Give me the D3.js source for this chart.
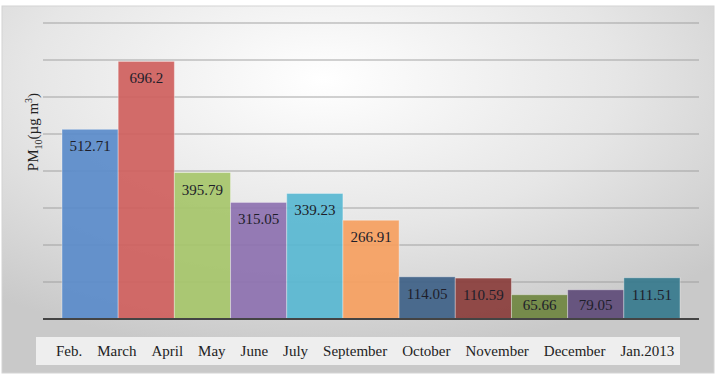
<!doctype html>
<html>
<head>
    <meta charset="utf-8">
    <title>PM10 monthly</title>
    <script src="https://cdn.jsdelivr.net/npm/d3@7"></script>
    <style type="text/css">
        html, body { margin: 0; background: #fff; }
        svg text { font-family: "Liberation Serif", "Times New Roman", serif; }
    </style>
</head>
<body>
<svg id="chart" width="723" height="380"></svg>
<script>
    var months = ["Feb.", "March", "April", "May", "June", "July", "September",
                  "October", "November", "December", "Jan.2013"];
    var pm10 = [512.71, 696.2, 395.79, 315.05, 339.23, 266.91, 114.05, 110.59, 65.66, 79.05, 111.51];
    var barColors = ["#5a8bca", "#cf5f5d", "#a6c56a", "#8d71b0", "#58b7d1", "#f6a060",
                     "#3e6187", "#8a3d3b", "#6f8640", "#5e4b78", "#36798d"];
    var yTicks = [0, 100, 200, 300, 400, 500, 600, 700, 800];

    var svg = d3.select("#chart");

    // background panel with soft radial shading
    var defs = svg.append("defs");
    var grad = defs.append("radialGradient")
        .attr("id", "bg")
        .attr("cx", "45%").attr("cy", "20%").attr("r", "75%");
    grad.append("stop").attr("offset", "0%").attr("stop-color", "#ffffff");
    grad.append("stop").attr("offset", "55%").attr("stop-color", "#e6e6e6");
    grad.append("stop").attr("offset", "100%").attr("stop-color", "#c9c9c9");

    svg.append("rect")
        .attr("x", 2).attr("y", 6)
        .attr("width", 712).attr("height", 367)
        .attr("fill", "url(#bg)")
        .attr("stroke", "#d4d4d4");

    var x = d3.scaleBand()
        .domain(months)
        .range([62, 680])
        .paddingInner(0)
        .paddingOuter(0);

    var y = d3.scaleLinear()
        .domain([0, 800])
        .range([319, 23]);

    // gridlines
    svg.append("g")
        .selectAll("line")
        .data(yTicks.slice(1))
        .enter()
        .append("line")
        .attr("x1", 43).attr("x2", 699)
        .attr("y1", function(d) { return y(d); })
        .attr("y2", function(d) { return y(d); })
        .attr("stroke", "#9a9a9a")
        .attr("stroke-opacity", 0.6)
        .attr("stroke-width", 1.5);

    // bars
    var bars = svg.append("g")
        .selectAll("rect")
        .data(pm10)
        .enter()
        .append("rect")
        .attr("x", function(d, i) { return x(months[i]); })
        .attr("y", function(d) { return y(d); })
        .attr("width", x.bandwidth())
        .attr("height", function(d) { return y(0) - y(d); })
        .attr("fill", function(d, i) { return barColors[i]; })
        .attr("fill-opacity", 0.92)
        .attr("stroke", "#ffffff")
        .attr("stroke-opacity", 0.35)
        .attr("stroke-width", 1);

    // value labels
    svg.append("g")
        .selectAll("text")
        .data(pm10)
        .enter()
        .append("text")
        .attr("x", function(d, i) { return x(months[i]) + x.bandwidth() / 2; })
        .attr("y", function(d) {
            var h = y(0) - y(d);
            return y(d) + Math.min(22, h - 9);
        })
        .attr("text-anchor", "middle")
        .attr("font-size", 15)
        .attr("fill", "#1e1e2a")
        .text(function(d) { return d; });

    // x axis baseline
    svg.append("line")
        .attr("x1", 43).attr("x2", 699)
        .attr("y1", y(0)).attr("y2", y(0))
        .attr("stroke", "#444")
        .attr("stroke-width", 2);

    // category label strip (pasted text box in the original)
    svg.append("rect")
        .attr("x", 36).attr("y", 337)
        .attr("width", 644).attr("height", 28)
        .attr("fill", "#eeeeee");

    svg.append("text")
        .attr("x", 56).attr("y", 356)
        .attr("font-size", 15)
        .attr("fill", "#222")
        .style("white-space", "pre")
        .text(months.join("\u00a0\u00a0\u00a0\u00a0"));

    // y axis title
    var yt = svg.append("text")
        .attr("transform", "translate(38,132) rotate(-90)")
        .attr("text-anchor", "middle")
        .attr("font-size", 15)
        .attr("fill", "#222");
    yt.append("tspan").text("PM");
    yt.append("tspan").attr("font-size", 10).attr("dy", 4).text("10");
    yt.append("tspan").attr("dy", -4).text("(\u00b5g m");
    yt.append("tspan").attr("font-size", 10).attr("dy", -6).text("3");
    yt.append("tspan").attr("dy", 6).text(")");
</script>
</body>
</html>
